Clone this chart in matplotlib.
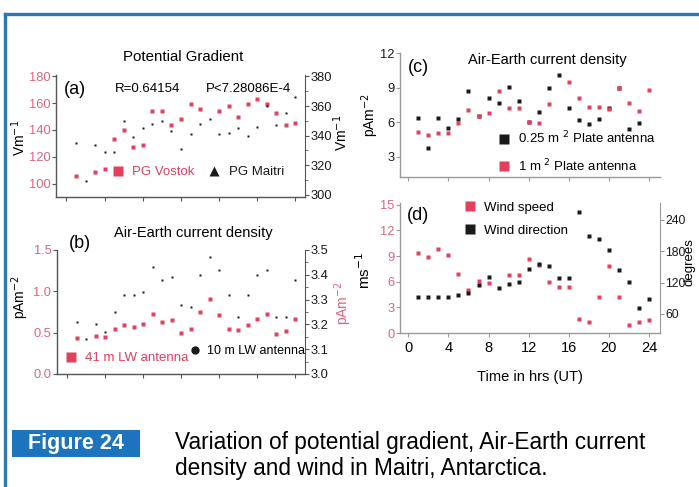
import numpy as np
import matplotlib.pyplot as plt
from matplotlib.lines import Line2D
from matplotlib.patches import Rectangle
from matplotlib.ticker import MultipleLocator

plt.rcParams['font.family'] = ['Liberation Sans', 'DejaVu Sans']

W, H = 699, 487
nan = np.nan

hours = np.arange(1, 25)

# (a) potential gradient
pg_vostok = [106, nan, 109, 111, 133, 140, 127, 129, 154, 154, 144, 148,
             159, 156, nan, 154, 158, 150, 159, 163, 159, 153, 144, 145]
pg_maitri = [335, 309, 334, 329, 329, 350, 339, 345, 348, 350, 343, 331,
             341, 348, 351, 341, 342, 345, 340, 346, 360, 347, 355, 366]

# (b) air-earth current density, LW antennas
aec_41m = [0.44, nan, 0.46, 0.45, 0.54, 0.59, 0.57, 0.61, 0.73, 0.63, 0.65, 0.50,
           0.54, 0.75, 0.91, 0.71, 0.55, 0.53, 0.59, 0.66, 0.73, 0.48, 0.52, 0.66]
aec_10m = [3.21, 3.14, 3.20, 3.17, 3.25, 3.32, 3.32, 3.33, 3.43, 3.38, 3.39, 3.28,
           3.27, 3.40, 3.47, 3.42, 3.32, 3.23, 3.32, 3.40, 3.42, 3.23, 3.23, 3.38]

# (c) air-earth current density, plate antennas
plate_025 = [6.35, 3.73, 6.40, 5.53, 6.26, 8.75, 6.55, 8.06, 7.66, 9.02, 7.88, 6.05,
             6.90, 8.96, 10.06, 7.27, 6.20, 5.82, 6.31, 7.22, 8.96, 5.41, 5.96, nan]
plate_1m = [5.18, 4.89, 5.04, 5.04, 5.91, 7.07, 6.55, 6.78, 8.73, 7.27, 7.27, 6.05,
            5.96, 7.59, nan, 9.49, 8.09, 7.31, 7.31, 7.18, 8.96, 7.71, 6.98, 8.82]

# (d) wind
wind_speed = [9.3, 8.9, 9.8, 9.1, 6.9, 5.0, 6.1, 5.8, nan, 6.8, 6.8, 8.6,
              8.0, 6.0, 5.4, 5.4, 1.6, 1.3, 4.2, 7.8, 4.2, 0.9, 1.3, 1.5]
wind_dir = [92, 92, 93, 92, 96, 100, 116, 130, 109, 118, 121, 146,
            155, 151, 128, 128, 256, 209, 203, 183, 144, 122, 71, 89]

RED = '#e2405c'
PINK = '#d9667e'
DARK = '#1a1a1a'
BLUE = '#2a78b8'
TICK_FS = 9.3


def box(x0, y0, x1, y1):
    # pixel box (top-left origin) -> figure rect
    return [x0 / W, 1 - y1 / H, (x1 - x0) / W, (y1 - y0) / H]


def ftext(x, y, s, **kw):
    kw.setdefault('ha', 'center')
    kw.setdefault('va', 'center')
    fig.text(x / W, 1 - y / H, s, **kw)


def style(ax, left_color, right=None, right_color=DARK, spine='#555555'):
    ax.spines['top'].set_visible(False)
    ax.spines['right'].set_visible(False)
    for s in ['left', 'bottom']:
        ax.spines[s].set_color(spine)
        ax.spines[s].set_linewidth(1.0)
    ax.tick_params(direction='out', length=3, width=0.8, color=spine,
                   labelsize=TICK_FS, pad=1)
    ax.tick_params(axis='y', labelcolor=left_color)
    ax.xaxis.set_major_locator(MultipleLocator(4))
    if right is not None:
        for s in ['top', 'left', 'bottom']:
            right.spines[s].set_visible(False)
        right.spines['right'].set_color(spine)
        right.tick_params(direction='out', length=3, width=0.8, color=spine,
                          labelsize=TICK_FS, pad=1, labelcolor=right_color)
        right.tick_params(which='minor', length=2, width=0.6, color=spine)


fig = plt.figure(figsize=(W / 100, H / 100), dpi=100)

# ---- (a) potential gradient
ax_a = fig.add_axes(box(56, 75, 305, 197))
ax_a2 = ax_a.twinx()
ax_a.plot(hours, pg_vostok, 's', ms=2.8, color=RED, mec='none')
ax_a2.plot(hours, pg_maitri, 's', ms=2.0, color=DARK, mec='none')
ax_a.set_xlim(-1.1, 25)
ax_a.set_ylim(90, 181)
ax_a2.set_ylim(298.5, 381)
ax_a.set_yticks([100, 120, 140, 160, 180])
ax_a2.set_yticks([300, 320, 340, 360, 380])
ax_a2.yaxis.set_minor_locator(MultipleLocator(10))
ax_a.set_xticklabels([])
style(ax_a, PINK, ax_a2)

# ---- (b) air-earth current density, LW antennas
ax_b = fig.add_axes(box(57, 250, 305, 374))
ax_b2 = ax_b.twinx()
ax_b.plot(hours, aec_41m, 's', ms=2.8, color=RED, mec='none')
ax_b2.plot(hours, aec_10m, 's', ms=2.0, color=DARK, mec='none')
ax_b.set_xlim(-1.1, 25)
ax_b.set_ylim(0, 1.5)
ax_b2.set_ylim(3.0, 3.5)
ax_b.set_yticks([0.0, 0.5, 1.0, 1.5])
ax_b2.set_yticks(np.arange(3.0, 3.51, 0.1))
ax_b2.yaxis.set_minor_locator(MultipleLocator(0.05))
ax_b.set_xticklabels([])
style(ax_b, PINK, ax_b2)

# ---- (c) air-earth current density, plate antennas
ax_c = fig.add_axes(box(400, 53, 660, 177))
ax_c.plot(hours, plate_025, 's', ms=2.4, color=DARK, mec='none')
ax_c.plot(hours, plate_1m, 's', ms=2.8, color=RED, mec='none')
ax_c.set_xlim(-0.83, 25.1)
ax_c.set_ylim(1.26, 12)
ax_c.set_yticks([3, 6, 9, 12])
ax_c.set_xticklabels([])
style(ax_c, DARK, spine='#999999')

# ---- (d) wind
ax_d = fig.add_axes(box(400, 203, 660, 333))
ax_d2 = ax_d.twinx()
ax_d.plot(hours, wind_speed, 's', ms=2.8, color=RED, mec='none')
ax_d2.plot(hours, wind_dir, 's', ms=2.2, color=DARK, mec='none')
ax_d.set_xlim(-0.83, 25.1)
ax_d.set_ylim(0, 15.2)
ax_d2.set_ylim(23.5, 272.5)
ax_d.set_yticks([0, 3, 6, 9, 12, 15])
ax_d2.set_yticks([60, 120, 180, 240])
style(ax_d, PINK, ax_d2, spine='#999999')
ax_d.tick_params(axis='x', pad=3, labelsize=10.5)
ax_d2.tick_params(labelsize=8.8)

# titles, panel tags, stats
ftext(183, 57, 'Potential Gradient', fontsize=10.8)
ftext(75, 89, '(a)', fontsize=13)
ftext(148, 89, 'R=0.64154', fontsize=9.5)
ftext(248, 89, 'P<7.28086E-4', fontsize=9.5)
ftext(193, 233, 'Air-Earth current density', fontsize=10.5)
ftext(80, 243, '(b)', fontsize=13)
ftext(547, 60, 'Air-Earth current density', fontsize=10.5)
ftext(418, 68, '(c)', fontsize=13)
ftext(418, 216, '(d)', fontsize=13)

# axis labels
ftext(19, 138, 'Vm$^{-1}$', rotation=90, fontsize=10)
ftext(341, 133, 'Vm$^{-1}$', rotation=90, fontsize=10)
ftext(20, 297, 'pAm$^{-2}$', rotation=90, fontsize=10)
ftext(343, 303, 'pAm$^{-2}$', rotation=90, fontsize=10, color=PINK)
ftext(370, 115, 'pAm$^{-2}$', rotation=90, fontsize=10)
ftext(364, 270, 'ms$^{-1}$', rotation=90, fontsize=11)
ftext(690, 262, 'degrees', rotation=90, fontsize=9.5)
ftext(530, 377, 'Time in hrs (UT)', fontsize=10.5)

# legends
def sq(c, m='s', ms=6.5):
    return Line2D([], [], ls='none', marker=m, color=c, ms=ms, mec='none')

legkw = dict(frameon=False, loc='center left', handlelength=1.0,
             handletextpad=0.6, borderpad=0, borderaxespad=0,
             fontsize=9.5, bbox_transform=fig.transFigure)
fig.legend([sq(RED), sq(DARK, '^', 7)], ['PG Vostok', 'PG Maitri'], ncol=2,
           columnspacing=1.0, labelcolor=[RED, DARK],
           bbox_to_anchor=(111 / W, 1 - 172 / H), **legkw)
fig.legend([sq(RED)], ['41 m LW antenna'], labelcolor=[RED],
           bbox_to_anchor=(64 / W, 1 - 358 / H), **legkw)
fig.legend([sq(DARK, 'o', 6)], ['10 m LW antenna'],
           bbox_to_anchor=(189 / W, 1 - 351 / H),
           **{**legkw, 'fontsize': 9, 'handletextpad': 0.4})
fig.legend([sq(DARK), sq(RED)], ['0.25 m $^{2}$ Plate antenna', '1 m $^{2}$ Plate antenna'],
           labelspacing=0.8, bbox_to_anchor=(497 / W, 1 - 152 / H), **legkw)
fig.legend([sq(RED), sq(DARK)], ['Wind speed', 'Wind direction'],
           labelspacing=0.8, bbox_to_anchor=(463 / W, 1 - 219 / H), **legkw)

# page frame and caption
fig.add_artist(Line2D([5 / W, 1], [1 - 14 / H] * 2, color=BLUE, lw=2.4))
fig.add_artist(Line2D([5 / W] * 2, [1 - 14 / H, 0], color=BLUE, lw=2.4))
fig.add_artist(Rectangle((12 / W, 1 - 457 / H), 128 / W, 27 / H,
                         transform=fig.transFigure, color='#1c75bc', lw=0))
ftext(76, 443, 'Figure 24', color='white', fontsize=15.5, fontweight='bold')
ftext(175, 443, 'Variation of potential gradient, Air-Earth current',
      ha='left', fontsize=16.3)
ftext(175, 468, 'density and wind in Maitri, Antarctica.', ha='left', fontsize=16.3)

fig.savefig('out.png', dpi=100)
